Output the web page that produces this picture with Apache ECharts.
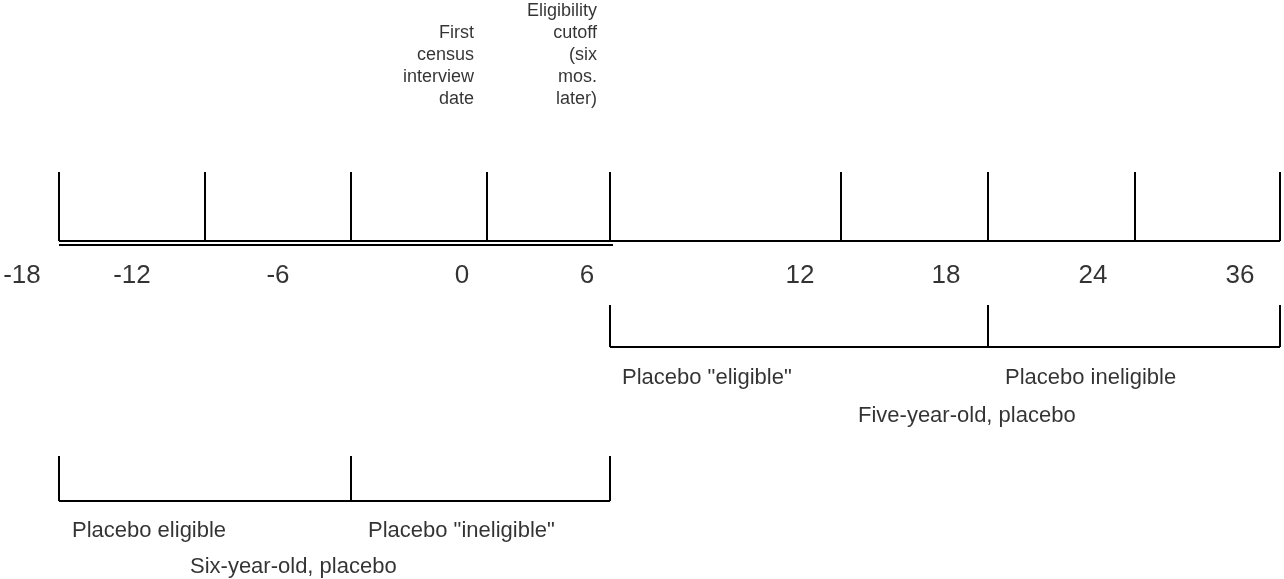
<!DOCTYPE html>
<html>
<head>
<meta charset="utf-8">
<script src="https://cdn.jsdelivr.net/npm/echarts@6/dist/echarts.min.js"></script>
<style>
  html, body { margin: 0; padding: 0; background: #fff; }
  #chart { width: 1284px; height: 579px; }
</style>
</head>
<body>
<div id="chart"></div>
<script>
// timeline ticks (layout units along the line) and their month labels
const tickPos = [59, 205, 351, 487, 610, 841, 988, 1135, 1280];
const tickLabels = ['-18', '-12', '-6', '0', '6', '12', '18', '24', '36'];
const tickLabelPos = [22, 132, 278, 462, 587, 800, 946, 1093, 1240];

// notes above the line, hung on tick 3 (0) and tick 4 (6)
const notes = ['First\ncensus\ninterview\ndate', 'Eligibility\ncutoff\n(six\nmos.\nlater)'];
const noteTicks = [3, 4];
const noteLines = [4, 5];

// placebo brackets: tick indexes of the bracket ends, names, captions
const fiveTicks = [4, 6, 8];
const fiveNames = ['Placebo "eligible"', 'Placebo ineligible'];
const fiveTitle = 'Five-year-old, placebo';
const sixTicks = [0, 2, 4];
const sixNames = ['Placebo eligible', 'Placebo "ineligible"'];
const sixTitle = 'Six-year-old, placebo';

// vertical levels
const Y = {
  tickTop: 172, axis: 241, axis2: 245, num: 276,
  upTop: 305, upBot: 347, upName: 378, upTitle: 416,
  loTop: 456, loBot: 501, loName: 531, loTitle: 567
};
const noteLH = 22;

const FONT = 'Liberation Sans, Arial, sans-serif';
const black = '#000';

function seg(points, w) {
  return {
    type: 'line', data: points, symbol: 'none', silent: true,
    lineStyle: { color: black, width: w || 2 }, z: 2
  };
}

function texts(items, opt) {
  return {
    type: 'scatter', symbolSize: 0, silent: true,
    data: items.map(it => ({ name: it.t, value: [it.x, it.y] })),
    label: Object.assign({
      show: true, position: 'inside', formatter: '{b}', color: black,
      fontFamily: FONT, fontSize: 22, align: 'left', verticalAlign: 'middle'
    }, opt)
  };
}

const series = [];

// main line, with the double rule under the first part
series.push(seg([[tickPos[0], Y.axis], [tickPos[tickPos.length - 1], Y.axis]]));
series.push(seg([[tickPos[0], Y.axis2], [tickPos[4] + 3, Y.axis2]]));
tickPos.forEach(x => series.push(seg([[x, Y.tickTop], [x, Y.axis]])));

// brackets
function bracket(ticks, top, bot) {
  const a = tickPos[ticks[0]], b = tickPos[ticks[ticks.length - 1]];
  series.push(seg([[a, bot], [b, bot]]));
  ticks.forEach(i => series.push(seg([[tickPos[i], top], [tickPos[i], bot]])));
}
bracket(fiveTicks, Y.upTop, Y.upBot);
bracket(sixTicks, Y.loTop, Y.loBot);

// tick numbers
series.push(texts(tickLabels.map((t, i) => ({ t: t, x: tickLabelPos[i], y: Y.num })), {
  align: 'center', fontSize: 26
}));

// notes above, bottom lines level with each other
const maxLines = Math.max.apply(null, noteLines);
series.push(texts(notes.map((t, i) => ({
  t: t, x: tickPos[noteTicks[i]] - 13, y: (maxLines - noteLines[i]) * noteLH
})), {
  align: 'right', verticalAlign: 'top', lineHeight: noteLH, fontSize: 18
}));

// bracket names
series.push(texts([
  { t: fiveNames[0], x: tickPos[fiveTicks[0]] + 12, y: Y.upName },
  { t: fiveNames[1], x: tickPos[fiveTicks[1]] + 17, y: Y.upName },
  { t: fiveTitle, x: 858, y: Y.upTitle },
  { t: sixNames[0], x: tickPos[sixTicks[0]] + 13, y: Y.loName },
  { t: sixNames[1], x: tickPos[sixTicks[1]] + 17, y: Y.loName },
  { t: sixTitle, x: 190, y: Y.loTitle }
], {}));

const chart = echarts.init(document.getElementById('chart'), null, { renderer: 'canvas' });
chart.setOption({
  animation: false,
  backgroundColor: '#fff',
  grid: { left: 0, right: 0, top: 0, bottom: 0 },
  xAxis: { type: 'value', min: 0, max: 1284, show: false },
  yAxis: { type: 'value', min: 0, max: 579, inverse: true, show: false },
  series: series
});
</script>
</body>
</html>
